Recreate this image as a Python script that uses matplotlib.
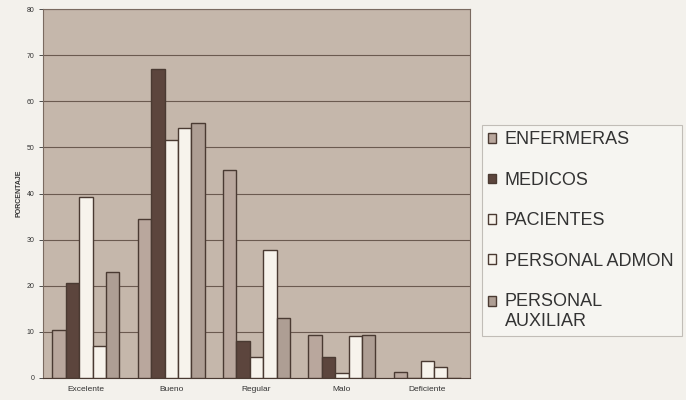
import numpy as np
import matplotlib

matplotlib.use('Agg')
import matplotlib.pyplot as plt
from matplotlib.patches import Rectangle
from matplotlib.legend_handler import HandlerPatch

plt.rcParams['font.family'] = ['Liberation Sans', 'DejaVu Sans']

CATEGORIAS = ['Excelente', 'Bueno', 'Regular', 'Malo', 'Deficiente']
SERIES = ['ENFERMERAS', 'MEDICOS', 'PACIENTES', 'PERSONAL ADMON', 'PERSONAL\nAUXILIAR']
ENFERMERAS = [10.3, 34.4, 45.0, 9.4, 1.2]
MEDICOS = [20.6, 66.9, 8.0, 4.5, 0.0]
PACIENTES = [39.2, 51.6, 4.5, 1.1, 3.7]
PERSONAL_ADMON = [7.0, 54.2, 27.7, 9.2, 2.4]
PERSONAL_AUXILIAR = [22.9, 55.3, 12.9, 9.4, 0.0]

COLORES = ['#b9a79d', '#5c453d', '#f7f3ec', '#f7f3ec', '#ae9e94']
FONDO_FIG = '#f3f1ec'
FONDO_EJES = '#c5b7ab'
BORDE = '#4a3a32'

valores = [ENFERMERAS, MEDICOS, PACIENTES, PERSONAL_ADMON, PERSONAL_AUXILIAR]


def cuadro_arriba(legend, orig_handle, xdescent, ydescent, width, height, fontsize):
    # el cuadro de la entrada de dos lineas va junto a la primera linea
    return Rectangle((-xdescent, -ydescent + 0.6 * fontsize), width, height)


fig = plt.figure(figsize=(6.86, 4.0), dpi=100)
fig.patch.set_facecolor(FONDO_FIG)
ax = fig.add_axes([0.063, 0.055, 0.622, 0.9225])
ax.set_facecolor(FONDO_EJES)

x = np.arange(len(CATEGORIAS))
ancho = 0.157
barras = []
for i, (serie, vals) in enumerate(zip(SERIES, valores)):
    b = ax.bar(x + (i - 2) * ancho, vals, width=ancho, color=COLORES[i],
               edgecolor=BORDE, linewidth=1.0, label=serie, zorder=3)
    barras.append(b)

ax.set_xlim(-0.5, 4.5)
ax.set_ylim(0, 80)
ax.set_yticks(np.arange(0, 81, 10))
ax.set_xticks(x)
ax.set_xticklabels(CATEGORIAS, fontsize=6, color='#333333')
ax.tick_params(axis='y', labelsize=5, colors='#333333', length=3, width=0.6)
ax.tick_params(axis='x', length=0, pad=6)
ax.grid(True, axis='y', color='#6b5a50', linewidth=0.8, zorder=1)
for lado in ['top', 'right', 'left']:
    ax.spines[lado].set_color('#7a6a60')
    ax.spines[lado].set_linewidth(0.8)
ax.spines['bottom'].set_color('#4a3a32')
ax.set_ylabel('PORCENTAJE', fontsize=5, fontweight='bold', color='#333333', labelpad=3)

manijas = [b.patches[0] for b in barras]
leg = ax.legend(manijas, SERIES, loc='upper left',
                bbox_to_anchor=(482 / 686, 1 - 125 / 400 - 0.3, 200 / 686, 0.3),
                bbox_transform=fig.transFigure, mode='expand',
                fontsize=13, frameon=True, fancybox=False, handlelength=0.45, handleheight=0.45,
                handletextpad=0.45, labelspacing=1.3, borderpad=0.35, borderaxespad=0,
                handler_map={manijas[4]: HandlerPatch(patch_func=cuadro_arriba)})
leg.get_frame().set_facecolor('#f8f7f3')
leg.get_frame().set_edgecolor('#b5b0aa')
leg.get_frame().set_linewidth(0.8)
for t in leg.get_texts():
    t.set_color('#333333')

fig.savefig('out.png', dpi=100, facecolor=FONDO_FIG)
